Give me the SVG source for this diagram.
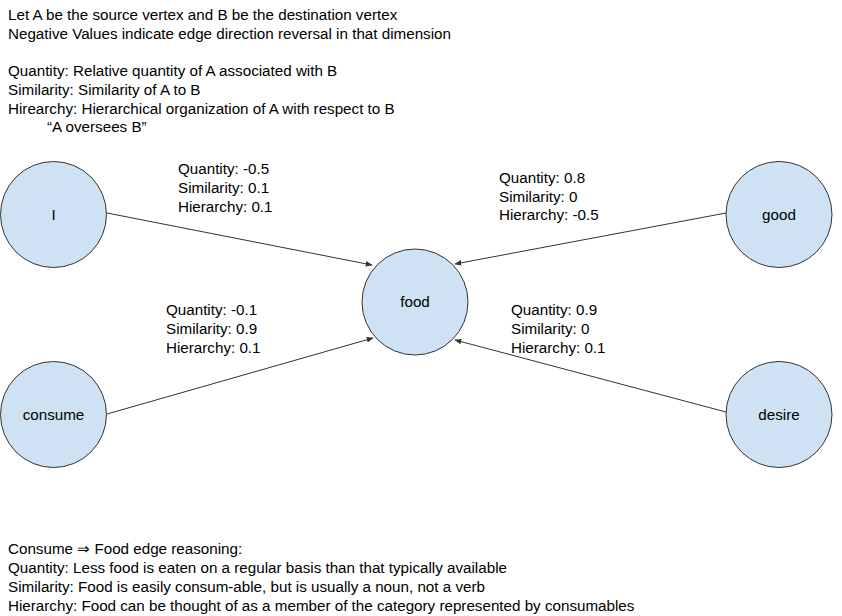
<svg xmlns="http://www.w3.org/2000/svg" width="842" height="616" viewBox="0 0 842 616">
<style>
text{font-family:"Liberation Sans",Arial,sans-serif;font-size:15.2px;fill:#000}
.node circle{fill:#cfe2f3;stroke:#333;stroke-width:1}
.node text{text-anchor:middle}
.edge{stroke:#333;stroke-width:1;fill:none;marker-end:url(#ah)}
</style>
<defs>
<marker id="ah" viewBox="0 0 10 10" refX="9" refY="5" markerWidth="7" markerHeight="7" orient="auto" markerUnits="userSpaceOnUse">
<path d="M0,1 L10,5 L0,9 Z" fill="#333"/>
</marker>
</defs>
<rect width="842" height="616" fill="#fff"/>
<g id="header">
<text x="8" y="20">Let A be the source vertex and B be the destination vertex</text>
<text x="8" y="39">Negative Values indicate edge direction reversal in that dimension</text>
<text x="8" y="76">Quantity: Relative quantity of A associated with B</text>
<text x="8" y="95">Similarity: Similarity of A to B</text>
<text x="8" y="114">Hirearchy: Hierarchical organization of A with respect to B</text>
<text x="47" y="132">“A oversees B”</text>
</g>
<g id="connectors">
<line class="edge" x1="107" y1="213" x2="372" y2="265"/>
<line class="edge" x1="726" y1="213" x2="455" y2="264"/>
<line class="edge" x1="107" y1="414" x2="373" y2="338"/>
<line class="edge" x1="726" y1="412" x2="455" y2="340"/>
</g>
<g id="edge-labels">
<text x="178" y="174">Quantity: -0.5</text>
<text x="178" y="193">Similarity: 0.1</text>
<text x="178" y="212">Hierarchy: 0.1</text>
<text x="499" y="183">Quantity: 0.8</text>
<text x="499" y="202">Similarity: 0</text>
<text x="499" y="220">Hierarchy: -0.5</text>
<text x="166" y="315">Quantity: -0.1</text>
<text x="166" y="334">Similarity: 0.9</text>
<text x="166" y="353">Hierarchy: 0.1</text>
<text x="511" y="315">Quantity: 0.9</text>
<text x="511" y="334">Similarity: 0</text>
<text x="511" y="353">Hierarchy: 0.1</text>
</g>
<g id="node-I" class="node"><circle cx="53.5" cy="214.5" r="53"/><text x="53.5" y="220">I</text></g>
<g id="node-food" class="node"><circle cx="415" cy="302" r="53"/><text x="415" y="307">food</text></g>
<g id="node-good" class="node"><circle cx="779" cy="214.5" r="53"/><text x="779" y="220">good</text></g>
<g id="node-consume" class="node"><circle cx="53.5" cy="414.5" r="53"/><text x="53.5" y="420">consume</text></g>
<g id="node-desire" class="node"><circle cx="779" cy="414.5" r="53"/><text x="779" y="420">desire</text></g>
<g id="footer">
<text x="8" y="554">Consume ⇒ Food edge reasoning:</text>
<text x="8" y="573">Quantity: Less food is eaten on a regular basis than that typically available</text>
<text x="8" y="592">Similarity: Food is easily consum-able, but is usually a noun, not a verb</text>
<text x="8" y="611">Hierarchy: Food can be thought of as a member of the category represented by consumables</text>
</g>
</svg>
